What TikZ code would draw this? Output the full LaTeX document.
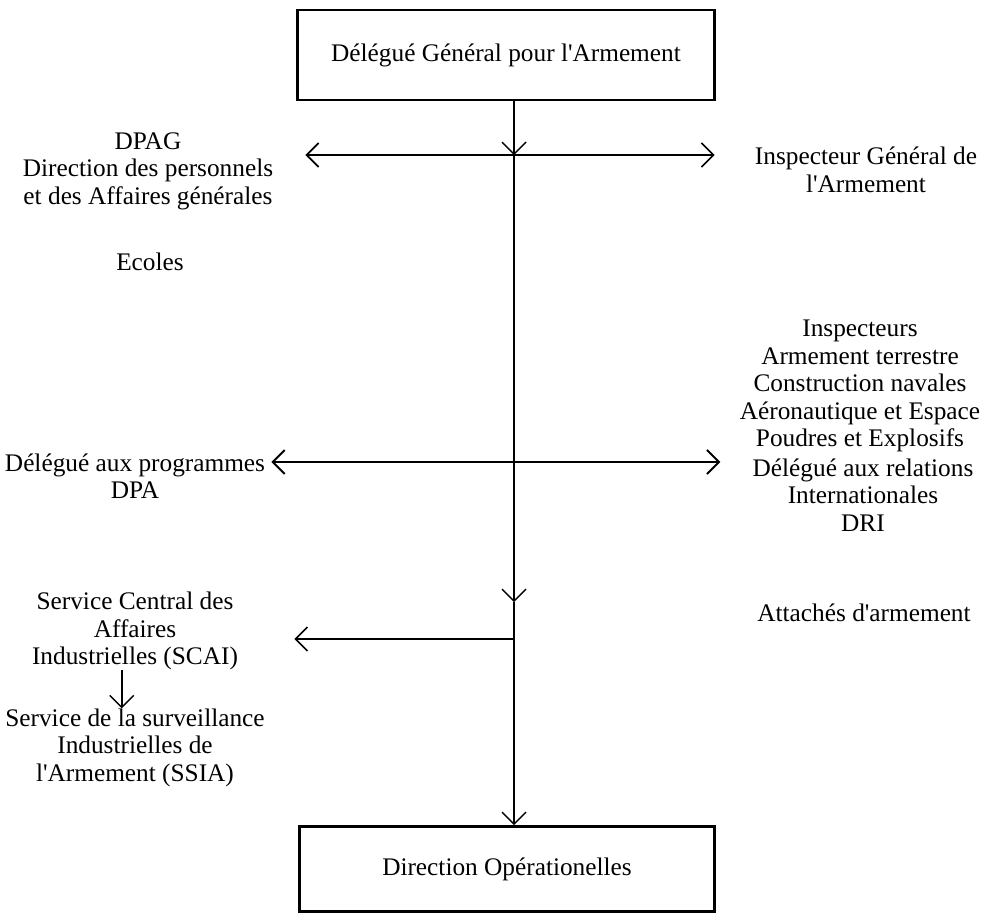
\documentclass[tikz,border=0pt]{standalone}
\usepackage{fontspec}
\setmainfont{Liberation Serif}
\usetikzlibrary{positioning,arrows.meta}

\begin{document}
\begin{tikzpicture}[x=0.025cm,y=-0.025cm,
        font=\fontsize{18}{19.6}\selectfont,
        box/.style={draw,line width=1.8pt,minimum width=10.43cm,minimum height=2.25cm},
        txt/.style={align=center,inner sep=0pt},
        link/.style={-{Straight Barb[length=0.3cm,width=0.6cm]},line width=1pt}]
        \useasboundingbox (0,0) rectangle (994,916);

        \node[box] (dga) at (506,55) {Délégué Général pour l\textquotesingle Armement};
        \node[box,minimum width=10.38cm,minimum height=2.13cm] (dop) at (507,869) {Direction Opérationelles};

        % left side
        \node[txt] (dpag) at (148,171) {DPAG\\Direction des personnels\\et des Affaires générales};
        \node[txt] (ecoles) at (150,262) {Ecoles};
        \node[txt] (dpa) at (135,476) {Délégué aux programmes\\DPA};
        \node[txt] (scai) at (135,631) {Service Central des\\Affaires\\Industrielles (SCAI)};
        \node[txt] (ssia) [below=0.95cm of scai.south] {Service de la surveillance\\Industrielles de\\l\textquotesingle Armement (SSIA)};

        % right side
        \node[txt] (iga) at (866,170) {Inspecteur Général de\\l\textquotesingle Armement};
        \node[txt] (insp) at (860,386) {Inspecteurs\\Armement terrestre\\Construction navales\\Aéronautique et Espace\\Poudres et Explosifs};
        \node[txt] (dri) at (863,495) {Délégué aux relations\\Internationales\\DRI};
        \node[txt] (att) at (864,613) {Attachés d\textquotesingle armement};

        \coordinate (j1) at (514,155);
        \coordinate (j2) at (514,462);
        \coordinate (j3) at (514,602);
        \coordinate (j4) at (514,639);

        \draw[link] (dga.south -| j1) -- (j1);
        \draw[link] (j1) -- (j3);
        \draw[link] (j3) -- (dop.north -| j3);

        \draw[link,line width=1.2pt,shorten >=0.8cm] (j1) -- (j1 -| dpag.east);
        \draw[link,line width=1.2pt,shorten >=1cm] (j1) -- (j1 -| iga.west);
        \draw[link,line width=1.4pt,shorten >=0.15cm] (j2) -- (j2 -| dpa.east);
        \draw[link,line width=1.4pt,shorten >=0.8cm] (j2) -- (j2 -| dri.west);
        \draw[link,line width=1.2pt,shorten >=1.4cm] (j4) -- (j4 -| scai.east);
        \draw[link] ([xshift=-0.33cm]scai.south) -- ([xshift=-0.33cm]scai.south |- ssia.north);
    \end{tikzpicture}
\end{document}
